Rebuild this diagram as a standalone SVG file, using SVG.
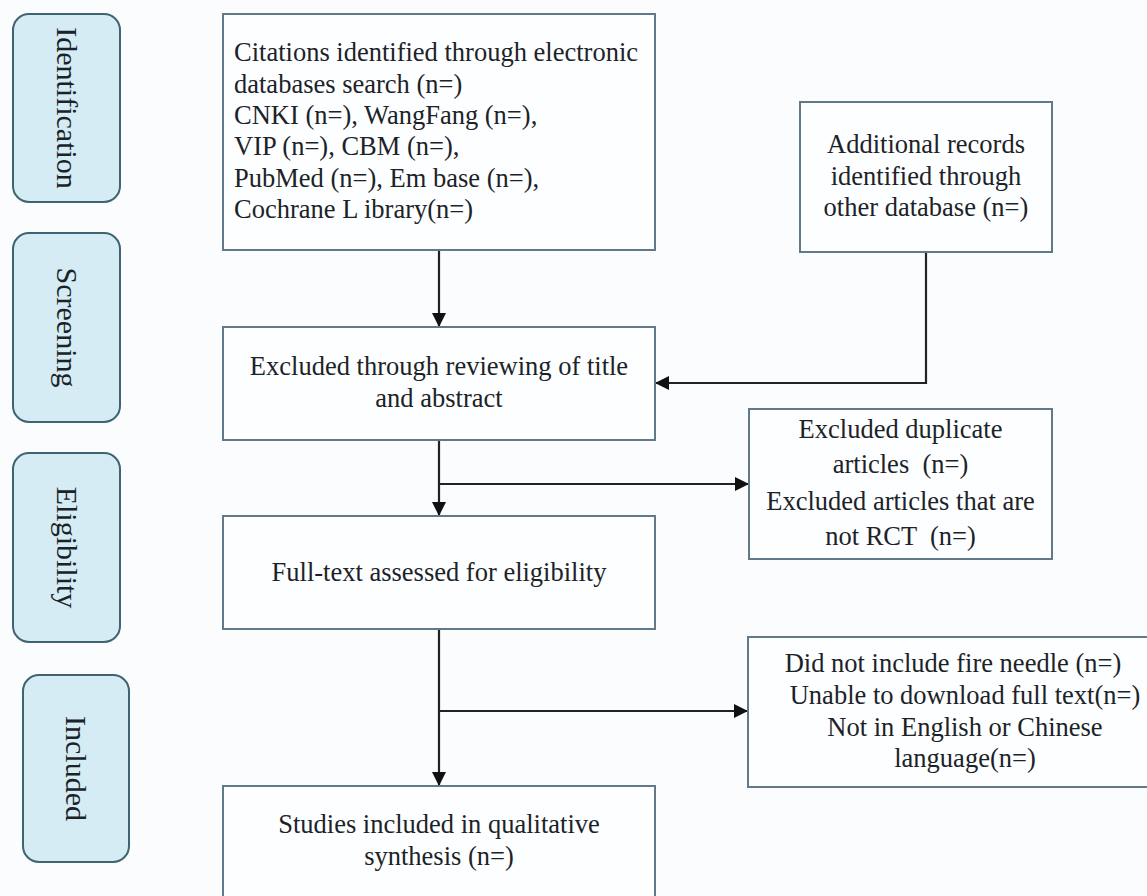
<svg xmlns="http://www.w3.org/2000/svg" width="1147" height="896" viewBox="0 0 1147 896">
<style>
.bg{fill:#fbfcfd}
.pill{fill:#d5ecf4;stroke:#3d6470;stroke-width:2}
.box{fill:#fdfeff;stroke:#62798a;stroke-width:2}
.pt{font-family:"Liberation Serif","Times New Roman",serif;font-size:30px;fill:#1a2328;text-anchor:middle}
.t{font-family:"Liberation Serif","Times New Roman",serif;font-size:26.5px;fill:#1c2328}
.c{text-anchor:middle}
.ln{fill:none;stroke:#1f2326;stroke-width:2.2}
</style>
<defs>
<marker id="arr" markerUnits="userSpaceOnUse" markerWidth="15" markerHeight="15" refX="14" refY="7" orient="auto">
<path d="M0,0 L14,7 L0,14 z" fill="#111"/>
</marker>
</defs>
<rect class="bg" x="0" y="0" width="1147" height="896"/>

<g id="stage-identification">
<rect class="pill" x="13" y="14" width="107" height="188" rx="16"/>
<text class="pt" transform="translate(66.5,108) rotate(90)" x="0" y="10">Identification</text>
</g>
<g id="stage-screening">
<rect class="pill" x="13" y="233" width="107" height="189" rx="16"/>
<text class="pt" transform="translate(66.5,327.5) rotate(90)" x="0" y="10">Screening</text>
</g>
<g id="stage-eligibility">
<rect class="pill" x="13" y="453" width="107" height="189" rx="16"/>
<text class="pt" transform="translate(66.5,547.5) rotate(90)" x="0" y="10">Eligibility</text>
</g>
<g id="stage-included">
<rect class="pill" x="23" y="675" width="106" height="187" rx="16"/>
<text class="pt" transform="translate(76,768.5) rotate(90)" x="0" y="10">Included</text>
</g>

<g id="connectors">
<path class="ln" d="M439,251 L439,327" marker-end="url(#arr)"/>
<path class="ln" d="M926,252 L926,383 L655,383" marker-end="url(#arr)"/>
<path class="ln" d="M439,441 L439,516" marker-end="url(#arr)"/>
<path class="ln" d="M439,484 L749,484" marker-end="url(#arr)"/>
<path class="ln" d="M439,630 L439,786" marker-end="url(#arr)"/>
<path class="ln" d="M439,711 L748,711" marker-end="url(#arr)"/>
</g>

<g id="box-citations">
<rect class="box" x="223" y="14" width="432" height="236"/>
<text class="t" x="234" y="61">Citations identified through electronic</text>
<text class="t" x="234" y="93">databases search (n=)</text>
<text class="t" x="234" y="124">CNKI (n=), WangFang (n=),</text>
<text class="t" x="234" y="155">VIP (n=), CBM (n=),</text>
<text class="t" x="234" y="187">PubMed (n=), Em base (n=),</text>
<text class="t" x="234" y="218">Cochrane L ibrary(n=)</text>
</g>

<g id="box-additional">
<rect class="box" x="800" y="102" width="252" height="150"/>
<text class="t c" x="926" y="153">Additional records</text>
<text class="t c" x="926" y="185">identified through</text>
<text class="t c" x="926" y="216">other database (n=)</text>
</g>

<g id="box-title-abstract">
<rect class="box" x="223" y="327" width="432" height="113"/>
<text class="t c" x="439" y="375">Excluded through reviewing of title</text>
<text class="t c" x="439" y="407">and abstract</text>
</g>

<g id="box-duplicates">
<rect class="box" x="749" y="409" width="303" height="150"/>
<text class="t c" x="900.5" y="438" xml:space="preserve">Excluded duplicate</text>
<text class="t c" x="900.5" y="473" xml:space="preserve">articles  (n=)</text>
<text class="t c" x="900.5" y="510" xml:space="preserve">Excluded articles that are</text>
<text class="t c" x="900.5" y="545" xml:space="preserve">not RCT  (n=)</text>
</g>

<g id="box-fulltext">
<rect class="box" x="223" y="516" width="432" height="113"/>
<text class="t c" x="439" y="581">Full-text assessed for eligibility</text>
</g>

<g id="box-excluded-fulltext">
<rect class="box" x="748" y="637" width="440" height="150"/>
<text class="t c" x="953" y="672">Did not include fire needle (n=)</text>
<text class="t c" x="965" y="704">Unable to download full text(n=)</text>
<text class="t c" x="965" y="736">Not in English or Chinese</text>
<text class="t c" x="965" y="767">language(n=)</text>
</g>

<g id="box-included">
<rect class="box" x="223" y="786" width="432" height="130"/>
<text class="t c" x="439" y="833">Studies included in qualitative</text>
<text class="t c" x="439" y="865">synthesis (n=)</text>
</g>
</svg>
